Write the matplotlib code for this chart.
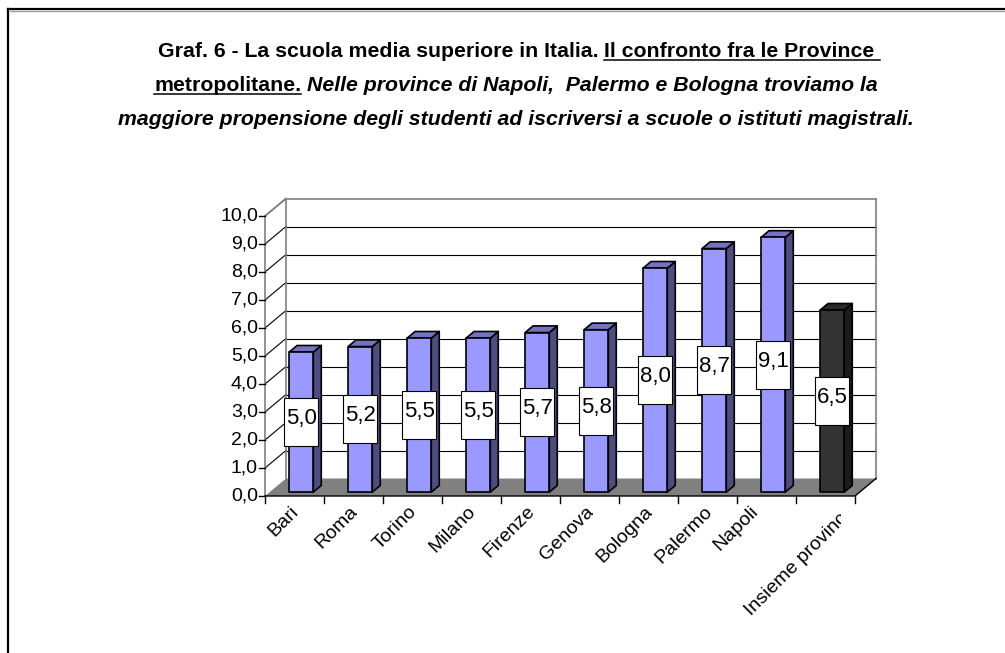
import matplotlib
matplotlib.use('Agg')
import matplotlib.pyplot as plt
from matplotlib import font_manager as fm
from matplotlib.lines import Line2D
from matplotlib.patches import Polygon, Rectangle

# ---- data ----
categories = ['Bari', 'Roma', 'Torino', 'Milano', 'Firenze', 'Genova',
              'Bologna', 'Palermo', 'Napoli', 'Insieme province']
values = [5.0, 5.2, 5.5, 5.5, 5.7, 5.8, 8.0, 8.7, 9.1, 6.5]
yticks = [0, 1, 2, 3, 4, 5, 6, 7, 8, 9, 10]

title_lines = [
    [('Graf. 6 - La scuola media superiore in Italia.', 'bold'),
     ('Il confronto fra le Province', 'underline')],
    [('metropolitane.', 'underline'),
     ('Nelle province di Napoli,  Palermo e Bologna troviamo la', 'italic')],
    [('maggiore propensione degli studenti ad iscriversi a scuole o '
      'istituti magistrali.', 'italic')],
]

W, H = 1005, 653


def has_font(name):
    try:
        fm.findfont(fm.FontProperties(family=name), fallback_to_default=False)
        return True
    except ValueError:
        return False


BODY = 'Liberation Sans'
NARROW = 'Liberation Sans Narrow' if has_font('Liberation Sans Narrow') else BODY


def fx(px):
    return px / W


def fy(py):
    return 1 - py / H


fig = plt.figure(figsize=(W / 100, H / 100), dpi=100)
fig.patch.set_facecolor('white')

# outer frame (open on the right and bottom)
fig.add_artist(Line2D([fx(8), fx(8)], [fy(9), fy(H + 5)], color='black',
                      lw=1.6, transform=fig.transFigure))
fig.add_artist(Line2D([fx(8), fx(W + 5)], [fy(9), fy(9)], color='black',
                      lw=1.6, transform=fig.transFigure))
fig.add_artist(Line2D([fx(10), fx(W + 5)], [fy(11), fy(11)], color='#a0a0a0',
                      lw=1.0, transform=fig.transFigure))

# ---- title: mixed bold / underline / bold italic runs ----
renderer = fig.canvas.get_renderer()


def run_props(kind, size):
    return dict(family=NARROW, weight='bold', size=size,
                style='italic' if kind == 'italic' else 'normal')


def text_width(s, kind, size):
    t = fig.text(0, 0, s, **run_props(kind, size))
    w = t.get_window_extent(renderer).width
    t.remove()
    return w


def space_width(kind, size):
    return text_width('a a', kind, size) - text_width('aa', kind, size)


ref = 10.0
w3 = text_width(title_lines[2][0][0], 'italic', ref)
tsize = ref * 798 / w3
baselines = [57, 91, 125]
for line, base in zip(title_lines, baselines):
    widths = [text_width(s, k, tsize) for s, k in line]
    gaps = [space_width(k, tsize) for s, k in line[1:]]
    total = sum(widths) + sum(gaps)
    x = 516 - total / 2
    for j, (s, k) in enumerate(line):
        fig.text(fx(x), fy(base), s, ha='left', va='baseline',
                 **run_props(k, tsize))
        if k == 'underline':
            ext = space_width(k, tsize) if j == len(line) - 1 else 0
            fig.add_artist(Line2D([fx(x), fx(x + widths[j] + ext)],
                                  [fy(base + 3), fy(base + 3)], color='black',
                                  lw=1.1, transform=fig.transFigure))
        x += widths[j] + (gaps[j] if j < len(gaps) else 0)

# ---- pseudo-3D column chart ----
ax = fig.add_axes([fx(265), fy(496), 590 / W, 280 / H])
ax.set_xlim(0, 10)
ax.set_ylim(0, 10)
ax.axis('off')

DX, DY = 21 / 59, 17.5 / 28      # depth of the chart box, data units
D0, D1 = 0.22, 0.60              # front/back of the columns inside the box
n = len(categories)
ymax = yticks[-1]

# walls
ax.add_patch(Polygon([(DX, DY), (n + DX, DY), (n + DX, ymax + DY),
                      (DX, ymax + DY)], closed=True, fc='white', ec='none',
                     zorder=1, clip_on=False))
for v in yticks[1:-1]:
    ax.plot([DX, n + DX], [v + DY, v + DY], color='black', lw=0.8,
            zorder=2, clip_on=False)
for v in yticks[1:]:
    ax.plot([0, DX], [v, v + DY], color='black', lw=0.8, zorder=2,
            clip_on=False)
for xs, ys in (([DX, n + DX], [ymax + DY] * 2), ([DX, DX], [DY, ymax + DY]),
               ([n + DX, n + DX], [DY, ymax + DY]), ([0, 0], [0, ymax]),
               ([0, DX], [ymax, ymax + DY])):
    ax.plot(xs, ys, color='#808080', lw=1.2, zorder=2, clip_on=False)

# floor
ax.add_patch(Polygon([(0, 0), (n, 0), (n + DX, DY), (DX, DY)], closed=True,
                     fc='#808080', ec='none', zorder=3, clip_on=False))
ax.plot([0, n, n + DX], [0, 0, DY], color='black', lw=1.0, zorder=4,
        clip_on=False)
for i in range(n + 1):
    ax.plot([i, i], [0, -0.25], color='black', lw=1.0, zorder=4,
            clip_on=False)

# y axis ticks and labels
for v in yticks:
    ax.plot([-0.1, 0], [v, v], color='black', lw=1.0, zorder=4,
            clip_on=False)
    ax.text(-0.12, v, f'{v:.1f}'.replace('.', ','), ha='right',
            va='center', fontsize=14, family=BODY, zorder=4)

# columns
ex, ey = (D1 - D0) * DX, (D1 - D0) * DY
for i, v in enumerate(values):
    last = i == n - 1
    front, side, top = (('#333333', '#1c1c1c', '#2a2a2a') if last
                        else ('#9999ff', '#4d4d80', '#7373bf'))
    x0 = i + 0.33 + D0 * DX
    x1 = i + 0.74 + D0 * DX
    yb = D0 * DY
    yt = yb + v
    kw = dict(closed=True, ec='black', lw=1.2, joinstyle='round',
              zorder=5 + i, clip_on=False)
    ax.add_patch(Polygon([(x1, yb), (x1 + ex, yb + ey), (x1 + ex, yt + ey),
                          (x1, yt)], fc=side, **kw))
    ax.add_patch(Polygon([(x0, yt), (x1, yt), (x1 + ex, yt + ey),
                          (x0 + ex, yt + ey)], fc=top, **kw))
    ax.add_patch(Polygon([(x0, yb), (x1, yb), (x1, yt), (x0, yt)],
                         fc=front, **kw))

# value boxes, drawn after all columns
for i, v in enumerate(values):
    xc = i + 0.535 + D0 * DX
    yc = D0 * DY + v / 2
    bw, bh = 34 / 59, 48 / 28
    ax.add_patch(Rectangle((xc - bw / 2, yc - bh / 2), bw, bh, fc='white',
                           ec='black', lw=0.8, zorder=20, clip_on=False))
    ax.text(xc, yc + 0.12, f'{v:.1f}'.replace('.', ','), ha='center',
            va='center', fontsize=16, family=BODY, zorder=21)

# rotated category labels: baseline end near the slot centre, cut off by a
# vertical clip line just right of it
label_end_px = [5, 5, 5, 5, 5, 5, 5, 5, -8, 30]
label_clip_px = [3, 3, 3, 3, 3, 3, 3, 3, 3, 15]
for i, name in enumerate(categories):
    t = ax.text(i + 0.5 + label_end_px[i] / 59, -16 / 28, name, rotation=45,
                rotation_mode='anchor', ha='right', va='baseline',
                fontsize=14, family=BODY, zorder=4)
    right = i + 0.5 + label_clip_px[i] / 59
    t.set_clip_path(Rectangle((i - 6, -20), right - (i - 6), 19.9,
                              transform=ax.transData))
    t.set_clip_on(True)

fig.savefig('out.png', dpi=100, facecolor='white')
